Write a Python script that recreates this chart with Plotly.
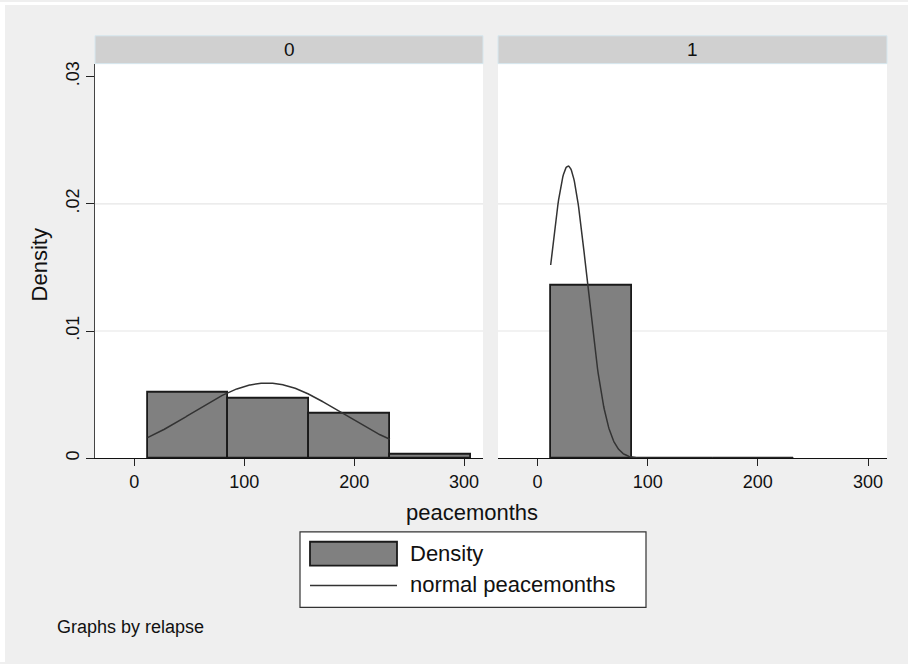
import numpy as np
import plotly.graph_objects as go
from plotly.subplots import make_subplots

# Histogram of peacemonths by relapse group, with normal density overlay
groups = ["0", "1"]
bin_edges = [12.0, 85.5, 159.0, 232.5, 306.0]
density_0 = [0.00513, 0.00466, 0.00354, 0.00031]
density_1 = [0.013605, 0.0, 0.0]
normal_mean = [120.5, 27.8]
normal_sd = [67.5, 17.37]
curve_range = [12.0, 232.5]
x_ticks = [0, 100, 200, 300]
y_ticks = [0, 0.01, 0.02, 0.03]
y_ticktext = ["0", ".01", ".02", ".03"]
grid_levels = [0.01, 0.02]

W, H = 908, 664
FONT = "Liberation Sans, Arial, Helvetica, sans-serif"
BG = "#efefef"
BAR_FILL = "#808080"
BAR_LINE = "#1a1a1a"
CURVE = "#333333"


def px(x):
    return x / W


def py(y):
    return 1 - y / H


fig = make_subplots(rows=1, cols=2, horizontal_spacing=0.02)

centers = [(a + b) / 2 for a, b in zip(bin_edges[:-1], bin_edges[1:])]
widths = [b - a for a, b in zip(bin_edges[:-1], bin_edges[1:])]

for col, dens in enumerate([density_0, density_1], start=1):
    n = len(dens)
    fig.add_trace(
        go.Bar(
            x=centers[:n], y=dens, width=widths[:n],
            marker=dict(color=BAR_FILL, line=dict(color=BAR_LINE, width=1.8)),
            showlegend=False, hoverinfo="skip",
        ),
        row=1, col=col,
    )
    m, s = normal_mean[col - 1], normal_sd[col - 1]
    xs = np.linspace(curve_range[0], curve_range[1], 400)
    ys = np.exp(-0.5 * ((xs - m) / s) ** 2) / (s * np.sqrt(2 * np.pi))
    fig.add_trace(
        go.Scatter(
            x=xs, y=ys, mode="lines",
            line=dict(color=CURVE, width=1.5),
            showlegend=False, hoverinfo="skip",
        ),
        row=1, col=col,
    )

x_dom = [[px(95), px(483)], [px(498), px(887)]]
y_dom = [py(459), py(62)]
y_max = 0.03 + 13 / 12800

for i, ax in enumerate(["xaxis", "xaxis2"]):
    fig.layout[ax].update(
        domain=x_dom[i], range=[-35.8, 317.2],
        tickvals=x_ticks, ticks="outside", ticklen=7, tickwidth=1.2,
        tickcolor="#222", showline=True, linecolor="#111", linewidth=1.4,
        showgrid=False, zeroline=False,
        tickfont=dict(family=FONT, size=18, color="#111"),
    )

fig.layout["yaxis"].update(
    domain=y_dom, range=[0, y_max],
    tickvals=y_ticks, ticktext=y_ticktext, tickangle=-90,
    ticks="outside", ticklen=8, tickwidth=1.2, tickcolor="#222",
    showline=True, linecolor="#444", linewidth=1.4,
    showgrid=False, zeroline=False,
    tickfont=dict(family=FONT, size=18, color="#111"),
)
fig.layout["yaxis2"].update(
    domain=y_dom, range=[0, y_max], matches="y",
    showticklabels=False, ticks="", showline=False,
    showgrid=False, zeroline=False,
)

shapes = [
    # thin white strips at the image edge
    dict(type="rect", xref="paper", yref="paper", x0=0, x1=1, y0=py(3), y1=1,
         fillcolor="white", line=dict(width=0), layer="below"),
    dict(type="rect", xref="paper", yref="paper", x0=0, x1=px(5), y0=0, y1=1,
         fillcolor="white", line=dict(width=0), layer="below"),
]
# horizontal grid lines in each panel
for xr, yr in [("x domain", "y"), ("x2 domain", "y2")]:
    for g in grid_levels:
        shapes.append(dict(type="line", xref=xr, yref=yr, x0=0, x1=1, y0=g, y1=g,
                           line=dict(color="#e6e6e6", width=1.2), layer="below"))
# panel headers
for (x0, x1) in [(95, 483), (498, 887)]:
    shapes.append(dict(type="rect", xref="paper", yref="paper",
                       x0=px(x0), x1=px(x1), y0=py(62), y1=py(34),
                       fillcolor="#d0d0d0", line=dict(color="#d6e7ef", width=1)))
# legend box
shapes.append(dict(type="rect", xref="paper", yref="paper",
                   x0=px(300), x1=px(646), y0=py(609), y1=py(533),
                   fillcolor="white", line=dict(color="#333", width=1.2)))
shapes.append(dict(type="rect", xref="paper", yref="paper",
                   x0=px(310), x1=px(397), y0=py(567), y1=py(543),
                   fillcolor=BAR_FILL, line=dict(color=BAR_LINE, width=1.8)))
shapes.append(dict(type="line", xref="paper", yref="paper",
                   x0=px(310), x1=px(397), y0=py(587), y1=py(587),
                   line=dict(color=CURVE, width=1.5)))

annotations = []
for name, cx in zip(groups, [289, 692.5]):
    annotations.append(dict(text=name, x=px(cx), y=py(48),
                            xanchor="center", yanchor="middle",
                            font=dict(family=FONT, size=19, color="#111")))
annotations += [
    dict(text="Density", x=px(39), y=py(265), textangle=-90,
         xanchor="center", yanchor="middle",
         font=dict(family=FONT, size=22, color="#111")),
    dict(text="peacemonths", x=px(472), y=py(514),
         xanchor="center", yanchor="middle",
         font=dict(family=FONT, size=22, color="#111")),
    dict(text="Density", x=px(408), y=py(555),
         xanchor="left", yanchor="middle",
         font=dict(family=FONT, size=22, color="#111")),
    dict(text="normal peacemonths", x=px(408), y=py(586),
         xanchor="left", yanchor="middle",
         font=dict(family=FONT, size=22, color="#111")),
    dict(text="Graphs by relapse", x=px(55), y=py(629),
         xanchor="left", yanchor="middle",
         font=dict(family=FONT, size=18, color="#111")),
]
for a in annotations:
    a["xref"] = "paper"
    a["yref"] = "paper"
    a["showarrow"] = False

fig.update_layout(
    width=W, height=H, autosize=False,
    margin=dict(l=0, r=0, t=0, b=0),
    paper_bgcolor=BG, plot_bgcolor="white",
    bargap=0, showlegend=False,
    shapes=shapes, annotations=annotations,
    font=dict(family=FONT),
)

fig.write_html("out.html")
